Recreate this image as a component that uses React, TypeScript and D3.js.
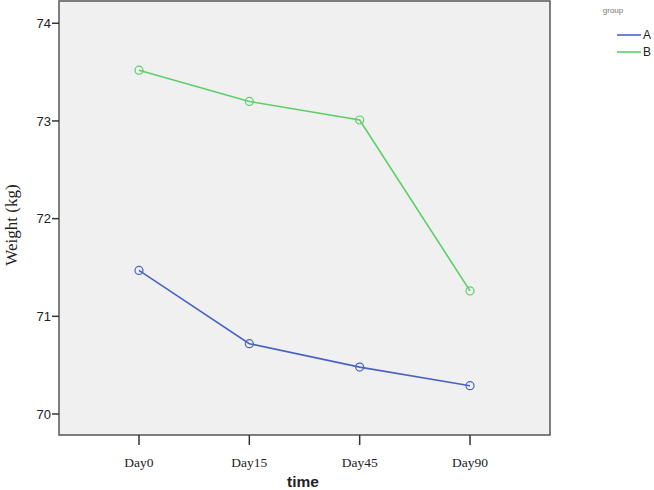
import React from "react";
import * as d3 from "d3";

const categories = ["Day0", "Day15", "Day45", "Day90"];
const seriesA = [71.47, 70.72, 70.48, 70.29];
const seriesB = [73.52, 73.2, 73.01, 71.26];
const yTicks = [70, 71, 72, 73, 74];
const seriesNames = ["A", "B"];
const colors = ["#4a62c4", "#5ccf68"];

export default function App() {
  const W = 654, H = 490;
  const left = 59, right = 550, top = 1, bottom = 435;
  const x = d3.scalePoint<string>().domain(categories).range([left, right]).padding(0.725);
  const y = d3.scaleLinear().domain([69.785, 74.228]).range([bottom, top]);
  const line = d3.line<number>().x((_, i) => x(categories[i])!).y((d) => y(d));
  const series = [seriesA, seriesB];
  return (
    <svg width={W} height={H} style={{ position: "absolute", left: 0, top: 0 }}>
      <rect x={0} y={0} width={W} height={H} fill="#fff" />
      <rect x={left} y={top} width={right - left} height={bottom - top} fill="#f0f0f0" stroke="#555" strokeWidth={1.5} />
      {yTicks.map((t) => (
        <g key={t}>
          <line x1={left - 7} x2={left} y1={y(t)} y2={y(t)} stroke="#333" strokeWidth={1.5} />
          <text x={left - 8} y={y(t)} dy="0.35em" textAnchor="end" fontFamily="Liberation Sans, Arial" fontSize={13} fill="#222">{t}</text>
        </g>
      ))}
      {categories.map((c) => (
        <g key={c}>
          <line x1={x(c)} x2={x(c)} y1={bottom} y2={bottom + 10} stroke="#333" strokeWidth={1.5} />
          <text x={x(c)} y={467} textAnchor="middle" fontFamily="Liberation Serif, Times New Roman" fontSize={13.5} fill="#222">{c}</text>
        </g>
      ))}
      <text x={303} y={487} textAnchor="middle" fontFamily="Liberation Sans, Arial" fontWeight="bold" fontSize={15.5} fill="#222">time</text>
      <text transform="translate(17,225) rotate(-90)" textAnchor="middle" fontFamily="Liberation Serif, Times New Roman" fontSize={17} fill="#222">Weight (kg)</text>
      {series.map((s, si) => (
        <g key={si}>
          <path d={line(s) || ""} fill="none" stroke={colors[si]} strokeWidth={1.6} />
          {s.map((v, i) => (
            <circle key={i} cx={x(categories[i])} cy={y(v)} r={4} fill="none" stroke={colors[si]} strokeWidth={1.2} />
          ))}
        </g>
      ))}
      <text x={613} y={13} textAnchor="middle" fontFamily="Liberation Sans, Arial" fontSize={8} fill="#777">group</text>
      {seriesNames.map((n, i) => (
        <g key={n}>
          <line x1={617} x2={641} y1={35 + i * 17} y2={35 + i * 17} stroke={colors[i]} strokeWidth={1.6} />
          <text x={643} y={35 + i * 17} dy="0.35em" fontFamily="Liberation Sans, Arial" fontSize={12} fill="#222">{n}</text>
        </g>
      ))}
    </svg>
  );
}
